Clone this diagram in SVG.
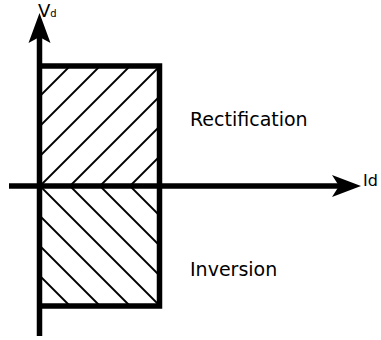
<svg xmlns="http://www.w3.org/2000/svg" width="381" height="340" viewBox="0 0 381 340">
<style>
.axis{stroke:#000;stroke-width:5.5;fill:none}
.box{stroke:#000;stroke-width:5.5;fill:none}
.hatch{stroke:#000;stroke-width:1.8;fill:none}
.lbl{font-family:"DejaVu Sans","Liberation Sans",sans-serif;fill:#000}
</style>
<rect width="381" height="340" fill="#fff"/>
<g id="hatch-upper" class="hatch">
<line x1="40" y1="186" x2="160" y2="66"/>
<line x1="70" y1="186" x2="160" y2="96"/>
<line x1="100" y1="186" x2="160" y2="126"/>
<line x1="130" y1="186" x2="160" y2="156"/>
<line x1="40" y1="156" x2="130" y2="66"/>
<line x1="40" y1="126" x2="100" y2="66"/>
<line x1="40" y1="96" x2="70" y2="66"/>
</g>
<g id="hatch-lower" class="hatch">
<line x1="40" y1="186" x2="160" y2="306"/>
<line x1="70" y1="186" x2="160" y2="276"/>
<line x1="100" y1="186" x2="160" y2="246"/>
<line x1="130" y1="186" x2="160" y2="216"/>
<line x1="40" y1="216" x2="130" y2="306"/>
<line x1="40" y1="246" x2="100" y2="306"/>
<line x1="40" y1="276" x2="70" y2="306"/>
</g>
<g id="box">
<polyline class="box" points="39.5,66 159.5,66 159.5,306 39.5,306"/>
</g>
<g id="connectors">
<line class="axis" x1="39.5" y1="336" x2="39.5" y2="36"/>
<path d="M39.5,13 L50.5,43 L39.5,37 L28.5,43 Z" fill="#000"/>
<line class="axis" x1="9" y1="186" x2="340" y2="186"/>
<path d="M361,186 L332,175 L339,186 L332,197 Z" fill="#000"/>
</g>
<g id="label-vd"><text class="lbl" x="38" y="17" font-size="18">V<tspan font-size="10" dy="0">d</tspan></text></g>
<g id="label-id"><text class="lbl" x="363" y="186" font-size="16">Id</text></g>
<g id="label-rect"><text class="lbl" x="190" y="126" font-size="19">Rectification</text></g>
<g id="label-inv"><text class="lbl" x="190" y="276" font-size="19">Inversion</text></g>
</svg>
